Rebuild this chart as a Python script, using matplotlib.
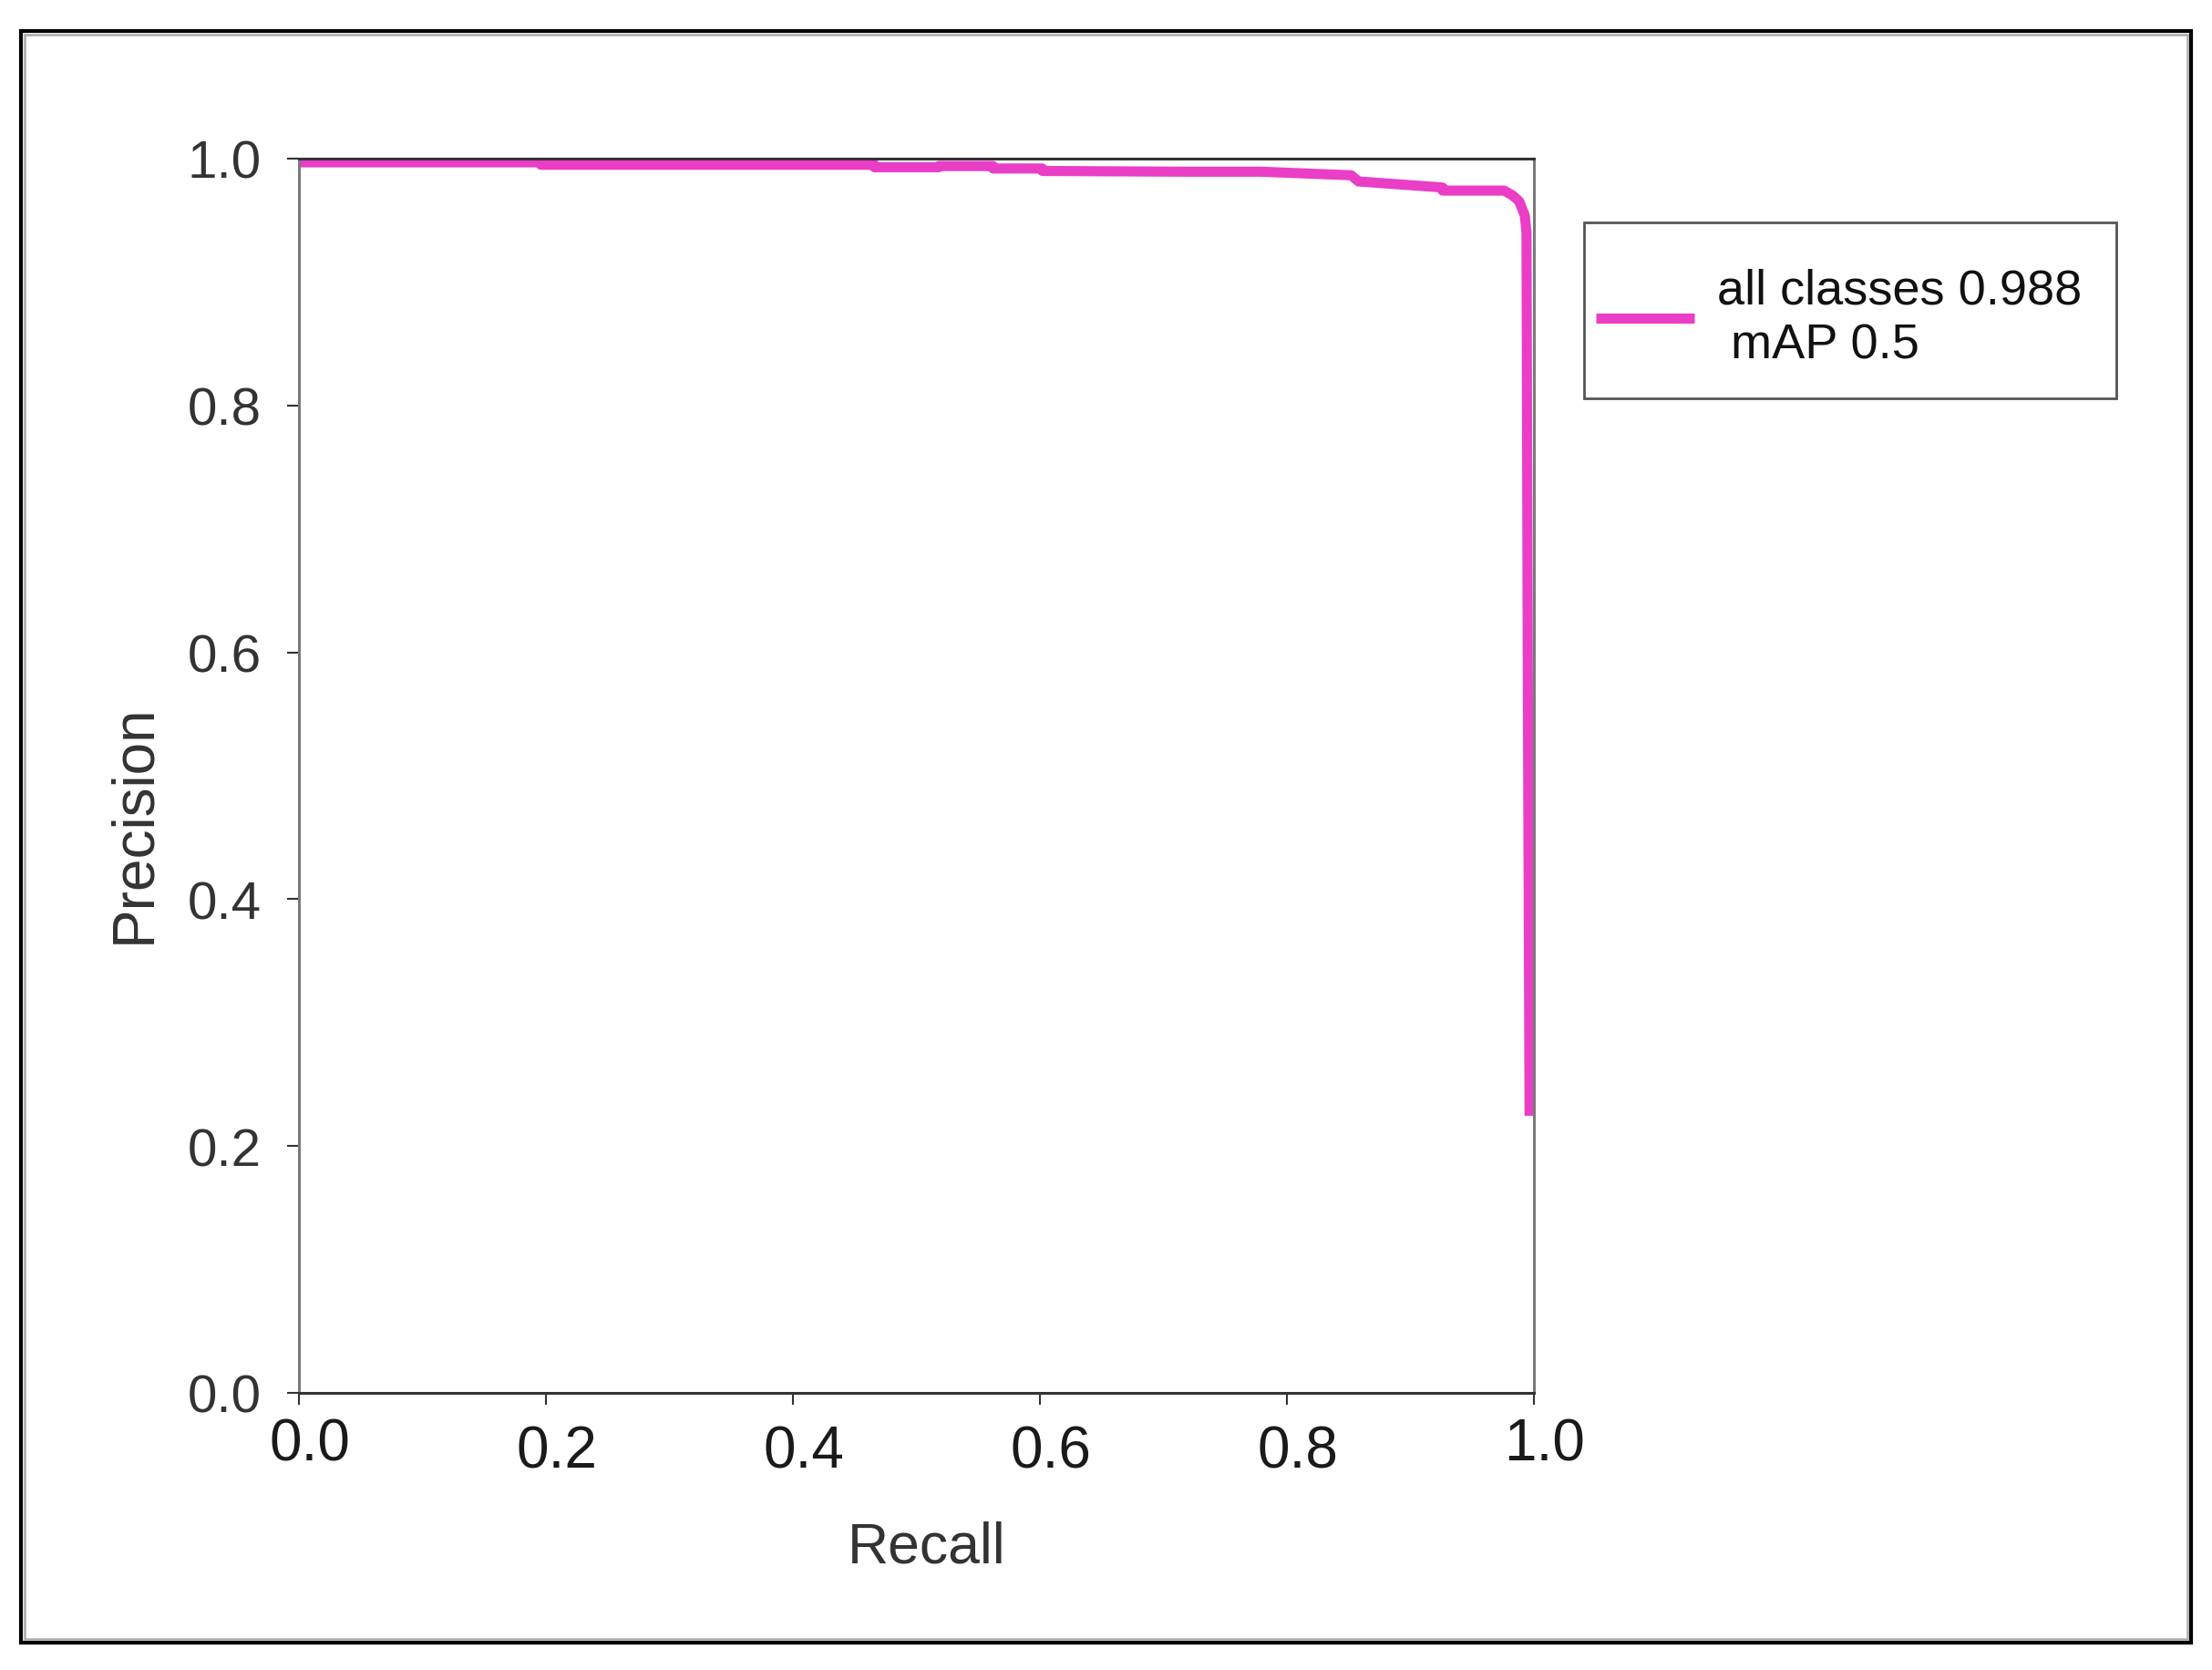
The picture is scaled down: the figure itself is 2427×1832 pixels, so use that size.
import matplotlib
matplotlib.use('Agg')
import matplotlib.pyplot as plt
from matplotlib.patches import Rectangle
from matplotlib.transforms import ScaledTranslation

# ---- data ----
recall = [0.0, 0.196, 0.196, 0.466, 0.466, 0.518, 0.518, 0.562, 0.562, 0.602, 0.602,
          0.717, 0.779, 0.852, 0.858, 0.926, 0.926, 0.976, 0.983, 0.988, 0.9926,
          0.994, 0.995, 0.9965]
precision = [0.997, 0.997, 0.995, 0.995, 0.993, 0.993, 0.994, 0.994, 0.992, 0.992, 0.990,
             0.9894, 0.9894, 0.9865, 0.9815, 0.9766, 0.9741, 0.9741, 0.970, 0.9655, 0.954,
             0.94, 0.60, 0.2245]
series_label = "all classes 0.988\n mAP 0.5"
xticks = [0.0, 0.2, 0.4, 0.6, 0.8, 1.0]
yticks = [0.0, 0.2, 0.4, 0.6, 0.8, 1.0]
xlabel = "Recall"
ylabel = "Precision"

plt.rcParams['font.family'] = ['Liberation Sans', 'DejaVu Sans']

W, H = 2427, 1833
fig = plt.figure(figsize=(W / 100, H / 100), dpi=100)
fig.patch.set_facecolor('white')

ax = fig.add_axes([328 / W, 1 - 1529 / H, (1683 - 328) / W, (1529 - 175) / H])
ax.plot(recall, precision, color='#EA3EC6', lw=8, solid_joinstyle='round',
        solid_capstyle='butt', label=series_label)
ax.set_xlim(0, 1)
ax.set_ylim(0, 1)
ax.set_xticks(xticks)
ax.set_yticks(yticks)
ax.set_xticklabels([f"{v:.1f}" for v in xticks])
ax.set_yticklabels([f"{v:.1f}" for v in yticks])

for s in ('left', 'right'):
    ax.spines[s].set_color('#7a7a7a')
    ax.spines[s].set_linewidth(2.2)
for s in ('top', 'bottom'):
    ax.spines[s].set_color('#333333')
    ax.spines[s].set_linewidth(2.2)

ax.tick_params(axis='both', direction='out', length=9.5, width=1.5, color='#333333')
ax.tick_params(axis='x', pad=15, labelsize=46, labelcolor='#1a1a1a')
ax.tick_params(axis='y', pad=20, labelsize=42, labelcolor='#333333')

# small label offsets as in the reference
for lab in ax.get_xticklabels():
    dy = 8 if lab.get_text() in ('0.0', '1.0') else 0
    lab.set_transform(lab.get_transform() + ScaledTranslation(12 / 100, dy / 100, fig.dpi_scale_trans))

fig.text(1017 / W, 1 - 1698 / H, xlabel, ha='center', va='center', fontsize=45, color='#333333')
fig.text(147 / W, 1 - 904 / H, ylabel, ha='center', va='center', rotation=90,
         fontsize=46, color='#333333')

# legend content (frame drawn separately to match the reference box)
leg = ax.legend(loc='upper left', bbox_to_anchor=(1751 / W, 1 - 294 / H),
                bbox_transform=fig.transFigure, fontsize=39, frameon=False,
                borderpad=0, handlelength=2.0, handletextpad=0.46, borderaxespad=0)
for t in leg.get_texts():
    t.set_color('#111111')
    t.set_linespacing(1.28)
fig.add_artist(Rectangle((1738 / W, 1 - 438 / H), (2322 - 1738) / W, (438 - 245) / H,
                         transform=fig.transFigure, fill=False, edgecolor='#555555', lw=2))

# outer frame
fig.add_artist(Rectangle((23 / W, 1 - 1803 / H), (2404 - 23) / W, (1803 - 35) / H,
                         transform=fig.transFigure, fill=False, edgecolor='black', lw=3.0))
fig.add_artist(Rectangle((27 / W, 1 - 1799 / H), (2400 - 27) / W, (1799 - 39) / H,
                         transform=fig.transFigure, fill=False, edgecolor='#aaaaaa', lw=1.8))

fig.savefig('out.png', dpi=100)
